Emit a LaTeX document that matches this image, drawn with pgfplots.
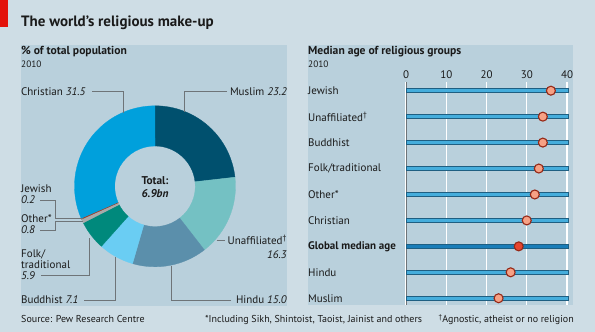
\documentclass[border=0pt]{standalone}
\usepackage{pgfplots}
\pgfplotsset{compat=1.18}
\usepackage{fontspec}
\setmainfont{PT Sans}
\definecolor{bgout}{HTML}{CEDDE5}
\definecolor{panel}{HTML}{B9D0DC}
\definecolor{econred}{HTML}{E3120B}
\definecolor{cMuslim}{HTML}{00506E}
\definecolor{cUnaff}{HTML}{74C1C3}
\definecolor{cHindu}{HTML}{5B8FAB}
\definecolor{cBuddhist}{HTML}{6ACDF3}
\definecolor{cFolk}{HTML}{00897C}
\definecolor{cOther}{HTML}{A9AAAA}
\definecolor{cJewish}{HTML}{9E3B25}
\definecolor{cChristian}{HTML}{00A0DC}
\definecolor{leader}{HTML}{6E7478}
\definecolor{cBar}{HTML}{45ADDC}
\definecolor{cBarEdge}{HTML}{1F5F82}
\definecolor{cBarG}{HTML}{1A7DB8}
\definecolor{cDot}{HTML}{F6A185}
\definecolor{cDotEdge}{HTML}{962816}
\definecolor{cDotG}{HTML}{E6452F}
\definecolor{txt}{HTML}{1A1A1A}
\begin{document}
\begin{tikzpicture}[font=\fontsize{11}{13}\selectfont,text=txt]
\begin{scope}[x=1pt,y=1pt]
\useasboundingbox (0,0) rectangle (595,332);
\fill[bgout] (0,0) rectangle (595,332);
\fill[econred] (0,305) rectangle (8,332);
\node[anchor=base west,inner sep=0,font=\bfseries\fontsize{15}{17}\selectfont] at (21,305) {The world’s religious make-up};
\fill[panel] (21,26) rectangle (287,287);
\fill[panel] (308,27) rectangle (573,287);
\node[anchor=base west,inner sep=0,font=\bfseries\fontsize{11.6}{13}\selectfont] at (21,277) {\% of total population};
\node[anchor=base west,inner sep=0,font=\fontsize{9.3}{11}\selectfont] at (21,264) {2010};
\node[anchor=base west,inner sep=0,font=\bfseries\fontsize{11.6}{13}\selectfont] at (308,277) {Median age of religious groups};
\node[anchor=base west,inner sep=0,font=\fontsize{9.3}{11}\selectfont] at (308,264) {2010};
\end{scope}

% ---------- donut ----------
\begin{axis}[at={(155pt,145.7pt)},anchor=center,scale only axis,width=170pt,height=170pt,
  xmin=-85,xmax=85,ymin=-85,ymax=85,hide axis,clip=false]
\pgfplotsextra{
  \gdef\cum{0}
  \foreach \s/\c in {23.2/cMuslim,16.3/cUnaff,15.0/cHindu,7.1/cBuddhist,5.9/cFolk,0.8/cOther,0.2/cJewish,31.5/cChristian}{
    \pgfmathsetmacro\aa{90-3.6*\cum}
    \pgfmathsetmacro\bb{90-3.6*(\cum+\s)}
    \fill[\c,draw=\c,line width=0.3pt] (axis cs:{80.5*cos(\aa)},{80.5*sin(\aa)}) arc[start angle=\aa,end angle=\bb,radius=80.5pt]
      -- (axis cs:{40.3*cos(\bb)},{40.3*sin(\bb)}) arc[start angle=\bb,end angle=\aa,radius=40.3pt] -- cycle;
    \pgfmathsetmacro\nc{\cum+\s}
    \xdef\cum{\nc}
  }
}
\end{axis}

\begin{scope}[x=1pt,y=1pt]
\node[anchor=base,inner sep=0,font=\bfseries\fontsize{11.3}{13}\selectfont] at (155,147.3) {Total:};
\node[anchor=base,inner sep=0,font=\bfseries\itshape\fontsize{11.3}{13}\selectfont] at (155,134.7) {6.9bn};
% labels
\node[anchor=base west,inner sep=0] at (21,236.3) {Christian \textit{31.5}};
\node[anchor=base east,inner sep=0] at (287,236.3) {Muslim \textit{23.2}};
\node[anchor=base east,inner sep=0] at (287,87.3) {Unaffiliated\textsuperscript{\textdagger}};
\node[anchor=base east,inner sep=0] at (287,73.7) {\textit{16.3}};
\node[anchor=base east,inner sep=0] at (287,28) {Hindu \textit{15.0}};
\node[anchor=base west,inner sep=0] at (21,28) {Buddhist \textit{7.1}};
\node[anchor=base west,inner sep=0] at (21,74.7) {Folk/};
\node[anchor=base west,inner sep=0] at (21,63) {traditional};
\node[anchor=base west,inner sep=0] at (21,52.3) {\textit{5.9}};
\node[anchor=base west,inner sep=0] at (21,139) {Jewish};
\node[anchor=base west,inner sep=0] at (21,128) {\textit{0.2}};
\node[anchor=base west,inner sep=0] at (21,109.7) {Other*};
\node[anchor=base west,inner sep=0] at (21,98) {\textit{0.8}};
% leader lines
\begin{scope}[leader,line width=0.8pt]
\draw (92,240.3) -- (123,240.3) -- (123,218.5);
\draw (227,240.3) -- (184,240.3) -- (184,220);
\draw (216.7,91.3) -- (225,91.3);
\draw (231,32) -- (171,32) -- (171,66);
\draw (84,32) -- (115,32) -- (115,74.5);
\draw (41,56.3) -- (89,56.3) -- (89,94);
\draw (40,132) -- (55.7,132) -- (55.7,113.7) -- (83,113.7);
\draw (40,102) -- (55.7,102) -- (55.7,110.3) -- (83,110.3);
\end{scope}
\end{scope}

% ---------- median age ----------
\begin{axis}[at={(406pt,250pt)},anchor=north west,scale only axis,width=161pt,height=223pt,
  xmin=0,xmax=40,ymin=0.665,ymax=9.26,y dir=reverse,
  axis x line*=top,axis y line=none,x axis line style={draw=none},
  xtick={0,10,20,30,40},ytick=\empty,major tick length=0pt,
  xmajorgrids,grid style={white,line width=1.3pt},
  xticklabel style={font=\fontsize{11}{13}\selectfont,text=txt},
  /pgf/number format/assume math mode=true,clip=false]
\draw[leader,line width=0.9pt] (axis cs:0,0.665) -- (axis cs:0,9.26);
\addplot[xbar,bar width=4pt,fill=cBar,draw=cBarEdge,line width=0.7pt]
  coordinates {(40.3,1) (40.3,2) (40.3,3) (40.3,4) (40.3,5) (40.3,6) (40.3,8) (40.3,9)};
\addplot[xbar,bar width=4.4pt,fill=cBarG,draw=cBarEdge,line width=0.7pt]
  coordinates {(40.3,7)};
\addplot[only marks,mark=*,mark size=4.5pt,mark options={fill=cDot,draw=cDotEdge,line width=1.1pt}]
  coordinates {(36,1) (34,2) (34,3) (33,4) (32,5) (30,6) (26,8) (23,9)};
\addplot[only marks,mark=*,mark size=4.5pt,mark options={fill=cDotG,draw=cDotEdge,line width=1.1pt}]
  coordinates {(28,7)};
\node[anchor=west,inner sep=0,xshift=-98pt] at (axis cs:0,1) {Jewish};
\node[anchor=west,inner sep=0,xshift=-98pt] at (axis cs:0,2) {Unaffiliated\textsuperscript{\textdagger}};
\node[anchor=west,inner sep=0,xshift=-98pt] at (axis cs:0,3) {Buddhist};
\node[anchor=west,inner sep=0,xshift=-98pt] at (axis cs:0,4) {Folk/traditional};
\node[anchor=west,inner sep=0,xshift=-98pt] at (axis cs:0,5) {Other*};
\node[anchor=west,inner sep=0,xshift=-98pt] at (axis cs:0,6) {Christian};
\node[anchor=west,inner sep=0,xshift=-98pt,font=\bfseries\fontsize{11}{13}\selectfont] at (axis cs:0,7) {Global median age};
\node[anchor=west,inner sep=0,xshift=-98pt] at (axis cs:0,8) {Hindu};
\node[anchor=west,inner sep=0,xshift=-98pt] at (axis cs:0,9) {Muslim};
\end{axis}

% footer
\begin{scope}[x=1pt,y=1pt]
\node[anchor=base west,inner sep=0,font=\fontsize{10}{12}\selectfont] at (21,9) {Source: Pew Research Centre};
\node[anchor=base west,inner sep=0,font=\fontsize{10}{12}\selectfont] at (205,9) {*Including Sikh, Shintoist, Taoist, Jainist and others};
\node[anchor=base east,inner sep=0,font=\fontsize{10}{12}\selectfont] at (574,9) {\textsuperscript{\textdagger}Agnostic, atheist or no religion};
\end{scope}
\end{tikzpicture}
\end{document}
